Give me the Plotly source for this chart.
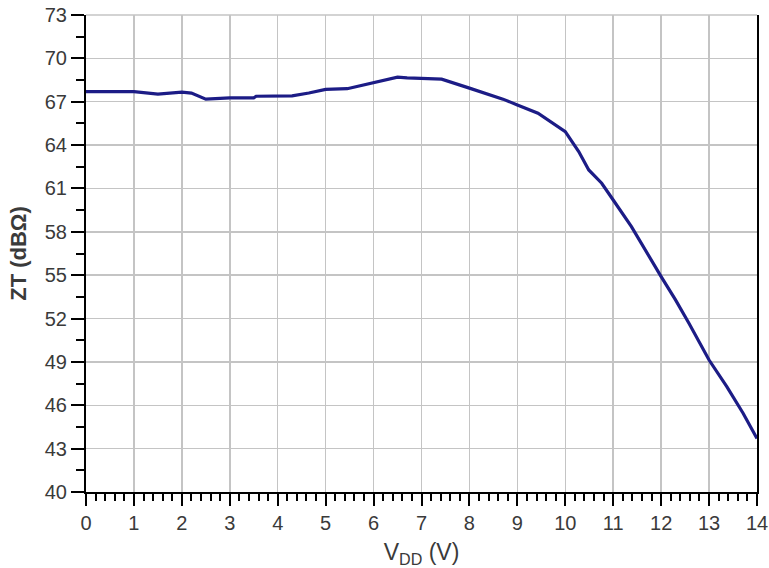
import plotly.graph_objects as go

vdd = [0, 1, 1.5, 2, 2.2, 2.5, 3, 3.5, 3.55, 4.3, 4.65, 5, 5.45, 6, 6.5, 6.7, 7.2, 7.42,
       8, 8.52, 8.7, 9, 9.43, 10, 10.28, 10.49, 10.76, 11, 11.38, 12, 12.3, 12.58,
       13, 13.37, 13.71, 14]
zt = [67.7, 67.7, 67.52, 67.67, 67.6, 67.18, 67.27, 67.27, 67.38, 67.4, 67.6, 67.85,
      67.9, 68.33, 68.7, 68.65, 68.56, 68.56, 67.94, 67.36, 67.18, 66.78, 66.2, 64.93,
      63.55, 62.28, 61.36, 60.2, 58.36, 54.9, 53.29, 51.67, 49.13, 47.29, 45.45, 43.7]

x_ticks = list(range(0, 15))
y_ticks = list(range(40, 74, 3))

fig = go.Figure()
fig.add_trace(go.Scatter(x=vdd, y=zt, mode="lines", hoverinfo="skip",
                         line=dict(color="#1c1c86", width=3.2), showlegend=False))

FONT = "Liberation Sans, Arial, sans-serif"
tickfont = dict(family=FONT, size=20, color="#3a3a3a")

# top frame edge drawn in grid grey
fig.add_shape(type="line", xref="paper", yref="paper", x0=0, x1=1, y0=1, y1=1,
              line=dict(color="#c4c4c4", width=1.5), layer="above")

fig.update_layout(
    width=769, height=568,
    margin=dict(l=86, r=12, t=15, b=76),
    paper_bgcolor="white", plot_bgcolor="white",
    hovermode=False,
    xaxis=dict(
        range=[0, 14], tickvals=x_ticks, ticktext=[str(v) for v in x_ticks],
        showgrid=True, gridcolor="#c4c4c4", gridwidth=1.5,
        showline=True, linecolor="black", linewidth=2,
        ticks="outside", ticklen=12, tickwidth=2, tickcolor="black",
        minor=dict(dtick=0.2, tick0=0, ticks="outside", ticklen=7, tickwidth=2,
                   tickcolor="black", showgrid=False),
        tickfont=tickfont, zeroline=False, automargin=False,
        ticklabeloverflow="allow",
        title=dict(text="V<sub>DD</sub> (V)", standoff=12,
                   font=dict(family=FONT, size=23, color="#3a3a3a")),
    ),
    yaxis=dict(
        range=[40, 73], tickvals=y_ticks, ticktext=[str(v) for v in y_ticks],
        showgrid=True, gridcolor="#c4c4c4", gridwidth=1.5,
        showline=True, linecolor="black", linewidth=2, mirror=True,
        ticks="outside", ticklen=13, tickwidth=2, tickcolor="black",
        minor=dict(dtick=1.5, tick0=40, ticks="outside", ticklen=8, tickwidth=2,
                   tickcolor="black", showgrid=False),
        tickfont=tickfont, zeroline=False, automargin=False,
        ticklabeloverflow="allow",
        title=dict(text="<b>ZT (dBΩ)</b>", standoff=12,
                   font=dict(family=FONT, size=22, color="#3a3a3a")),
    ),
)

fig.write_html("out.html", config={"displayModeBar": False, "staticPlot": True})

# remove the browser's default page margin so the figure fills the window exactly
with open("out.html", "r", encoding="utf-8") as f:
    html = f.read()
html = html.replace("<head>",
                    "<head><style>html,body{margin:0;padding:0;overflow:hidden;}</style>", 1)
with open("out.html", "w", encoding="utf-8") as f:
    f.write(html)
